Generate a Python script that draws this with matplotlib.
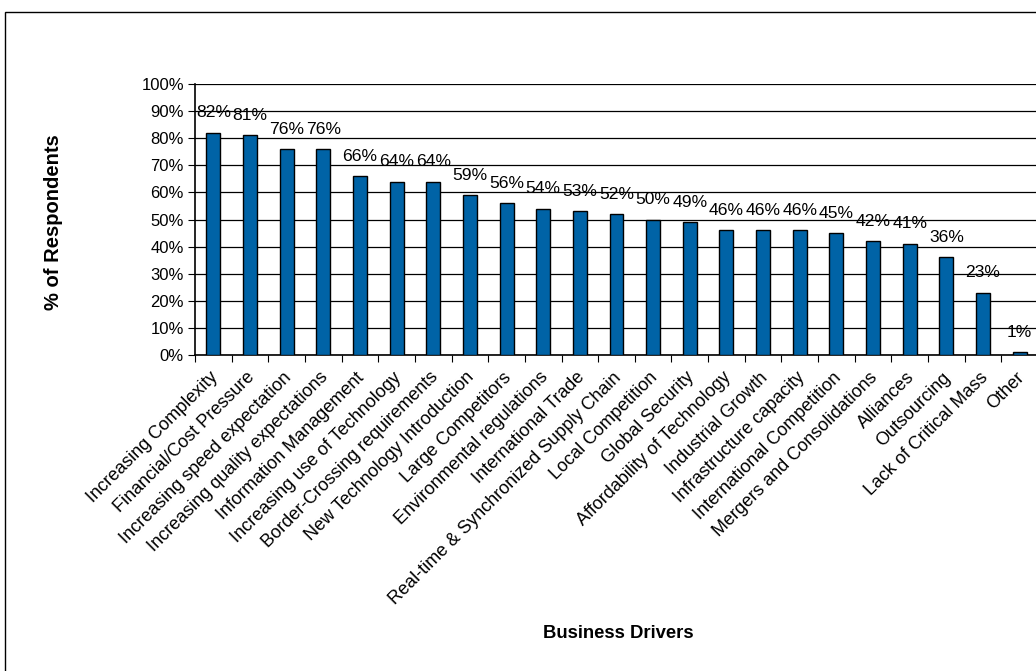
import matplotlib.pyplot as plt
import matplotlib.transforms as mtransforms
import numpy as np
from matplotlib.patches import Rectangle

plt.rcParams['font.family'] = ['Liberation Sans', 'DejaVu Sans']

drivers = [
    "Increasing Complexity", "Financial/Cost Pressure", "Increasing speed expectation",
    "Increasing quality expectations", "Information Management",
    "Increasing use of Technology", "Border-Crossing requirements",
    "New Technology Introduction", "Large Competitors", "Environmental regulations",
    "International Trade", "Real-time & Synchronized Supply Chain",
    "Local Competition", "Global Security", "Affordability of Technology",
    "Industrial Growth", "Infrastructure capacity", "International Competition",
    "Mergers and Consolidations", "Alliances", "Outsourcing",
    "Lack of Critical Mass", "Other",
]
pct = [82, 81, 76, 76, 66, 64, 64, 59, 56, 54, 53, 52, 50, 49,
       46, 46, 46, 45, 42, 41, 36, 23, 1]
yticks = list(range(0, 101, 10))

fig = plt.figure(figsize=(10.36, 6.71), dpi=100)
# chart frame (runs off the right and bottom edges)
fig.patches.append(Rectangle((5 / 1036, -0.05), 1.2, 1 - 12 / 671 + 0.05,
                             transform=fig.transFigure, fill=False,
                             edgecolor='black', linewidth=1.0))

ax = fig.add_axes([195 / 1036, 1 - 355 / 671, 843 / 1036, 271 / 671])
x = np.arange(len(drivers))
ax.bar(x, pct, width=0.38, color='#0063A6', edgecolor='black', linewidth=1.0, zorder=3)

for xi, v in zip(x, pct):
    ax.annotate(f"{v}%", (xi, v), xytext=(0, 9), textcoords='offset points',
                ha='center', va='bottom', fontsize=12.6, zorder=4)

ax.set_xlim(-0.5, len(drivers) - 0.5)
ax.set_ylim(0, 100)
ax.set_yticks(yticks)
ax.set_yticklabels([f"{t}%" for t in yticks], fontsize=12)
ax.yaxis.grid(True, color='black', linewidth=0.9, zorder=0)

# tick marks between categories, labels at centers
ax.set_xticks(np.arange(-0.5, len(drivers), 1))
ax.set_xticklabels([])
ax.set_xticks(x, minor=True)
ax.set_xticklabels(drivers, minor=True, rotation=45, ha='right',
                   rotation_mode='anchor', fontsize=13)
ax.tick_params(axis='x', which='major', length=5, direction='out')
ax.tick_params(axis='x', which='minor', length=0, pad=10)
ax.tick_params(axis='y', length=5, direction='out', pad=3)

shift = mtransforms.ScaledTranslation(-4 / 100, 0, fig.dpi_scale_trans)
for lbl in ax.get_xticklabels(minor=True):
    lbl.set_transform(lbl.get_transform() + shift)

for side in ['top', 'right']:
    ax.spines[side].set_visible(False)
ax.spines['left'].set_linewidth(1.2)
ax.spines['bottom'].set_linewidth(1.2)

fig.text(618 / 1036, 1 - 633 / 671, "Business Drivers", ha='center', va='center',
         fontsize=13.3, fontweight='bold')
fig.text(54 / 1036, 1 - 222 / 671, "% of Respondents", ha='center', va='center',
         fontsize=14.5, fontweight='bold', rotation=90)

fig.savefig("out.png", dpi=100)
